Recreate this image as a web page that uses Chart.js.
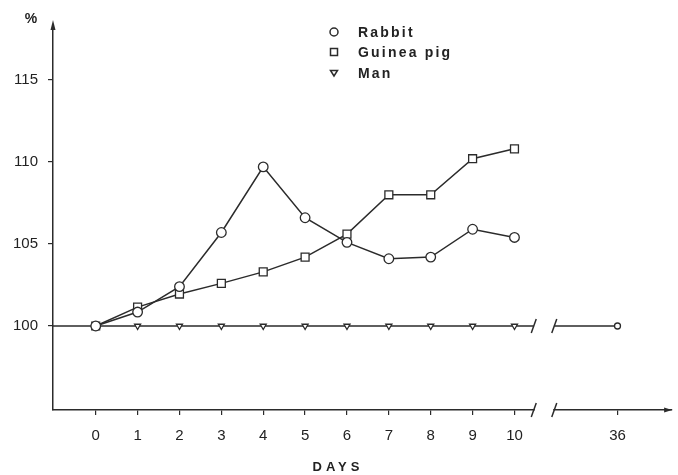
<!DOCTYPE html>
<html><head><meta charset="utf-8">
<script src="https://cdn.jsdelivr.net/npm/chart.js@4"></script>
<style>html,body{margin:0;padding:0;background:#fff;}#wrap{width:678px;height:475px;}</style>
</head><body><div id="wrap"><canvas id="c" width="678" height="475"></canvas></div>
<script>
// ---- data ----
const days = [0,1,2,3,4,5,6,7,8,9,10];
const rabbit = [100,100.85,102.4,105.7,109.7,106.6,105.1,104.1,104.2,105.9,105.4];
const guineaPig = [100,101.15,101.95,102.6,103.3,104.2,105.6,108.0,108.0,110.2,110.8];
const man = [100,100,100,100,100,100,100,100,100,100,100];
const lateDay = 36;
const lateValue = 100;
const xTickDays = [0,1,2,3,4,5,6,7,8,9,10,36];
const xTickLabels = ['0','1','2','3','4','5','6','7','8','9','10','36'];
const yTickValues = [100,105,110,115];
const seriesNames = ['Rabbit','Guinea pig','Man'];
const baseline = 100;

// ---- broken-axis mapping (axis units) ----
const LATE_POS = 12.46;        // where day 36 sits after the break
const BREAK_A = 10.46, BREAK_B = 10.95;
function axisPos(d){ return d <= 10 ? d : LATE_POS; }

const INK = '#2b2b2b';
const pts = arr => days.map((d,i)=>({x:axisPos(d), y:arr[i]}));

const decor = {
  id:'decor',
  beforeDatasetsDraw(chart){
    const {ctx, chartArea:a, scales:{x,y}} = chart;
    const yb = y.getPixelForValue(baseline);
    ctx.save();
    ctx.strokeStyle = INK; ctx.lineWidth = 1.3;
    ctx.beginPath();
    ctx.moveTo(a.left, yb); ctx.lineTo(x.getPixelForValue(BREAK_A), yb);
    ctx.moveTo(x.getPixelForValue(BREAK_B), yb); ctx.lineTo(x.getPixelForValue(LATE_POS), yb);
    ctx.stroke();
    ctx.restore();
  },
  afterDraw(chart){
    const {ctx, chartArea:a, scales:{x,y}} = chart;
    ctx.save();
    // gap in x axis
    const xa = x.getPixelForValue(BREAK_A), xb = x.getPixelForValue(BREAK_B);
    ctx.fillStyle = '#fff';
    ctx.fillRect(xa+1, a.bottom-3, xb-xa-2, 6);
    ctx.strokeStyle = INK; ctx.lineWidth = 1.5;
    const slash = (px, py) => { ctx.beginPath(); ctx.moveTo(px-2.5, py+7); ctx.lineTo(px+2.5, py-7); ctx.stroke(); };
    const yb = y.getPixelForValue(baseline);
    [xa, xb].forEach(px => { slash(px, a.bottom); slash(px, yb); });
    // arrows
    ctx.fillStyle = INK;
    ctx.beginPath(); ctx.moveTo(a.left, a.top-5); ctx.lineTo(a.left-2.5, a.top+5); ctx.lineTo(a.left+2.5, a.top+5); ctx.closePath(); ctx.fill();
    ctx.beginPath(); ctx.moveTo(a.right+1, a.bottom); ctx.lineTo(a.right-7, a.bottom-2.5); ctx.lineTo(a.right-7, a.bottom+2.5); ctx.closePath(); ctx.fill();
    // % label
    ctx.fillStyle = '#222';
    ctx.font = 'bold 14px "Liberation Sans", Arial, sans-serif';
    ctx.textAlign = 'center'; ctx.textBaseline = 'middle';
    ctx.fillText('%', 31, 19);
    // DAYS
    ctx.font = 'bold 13px "Liberation Sans", Arial, sans-serif';
    ctx.letterSpacing = '4px';
    ctx.fillText('DAYS', 338, 467);
    // legend
    ctx.letterSpacing = '2.2px';
    ctx.font = 'bold 14px "Liberation Sans", Arial, sans-serif';
    ctx.textAlign = 'left';
    const lx = 334, ly = [32, 52, 73];
    ctx.strokeStyle = INK; ctx.lineWidth = 1.5; ctx.fillStyle = '#fff';
    ctx.beginPath(); ctx.arc(lx, ly[0], 4, 0, Math.PI*2); ctx.fill(); ctx.stroke();
    ctx.beginPath(); ctx.rect(lx-3.5, ly[1]-3.5, 7, 7); ctx.fill(); ctx.stroke();
    ctx.beginPath(); ctx.moveTo(lx-3.5, ly[2]-2.5); ctx.lineTo(lx+3.5, ly[2]-2.5); ctx.lineTo(lx, ly[2]+3); ctx.closePath(); ctx.fill(); ctx.stroke();
    ctx.fillStyle = '#222';
    seriesNames.forEach((n,i)=>ctx.fillText(n, 358, ly[i]+1));
    ctx.restore();
  }
};

const common = {borderColor:INK, borderWidth:1.5, pointBorderColor:INK, pointBackgroundColor:'#fff', pointBorderWidth:1.3, tension:0, fill:false};

new Chart(document.getElementById('c'), {
  type:'line',
  data:{datasets:[
    {...common, label:seriesNames[0], data:pts(rabbit), pointStyle:'circle', pointRadius:4.8},
    {...common, label:seriesNames[1], data:pts(guineaPig), pointStyle:'rect', pointRadius:5.6},
    {...common, label:seriesNames[2], data:pts(man), pointStyle:'triangle', pointRotation:180, pointRadius:3.5, borderWidth:0, showLine:false},
    {...common, label:'late', data:[{x:axisPos(lateDay), y:lateValue}], pointStyle:'circle', pointRadius:3, showLine:false}
  ]},
  options:{
    responsive:false, animation:false, devicePixelRatio:1,
    layout:{padding:{top:25, right:2, left:0, bottom:0}},
    plugins:{legend:{display:false}, tooltip:{enabled:false}},
    scales:{
      x:{type:'linear', min:-1.02, max:13.74,
        afterBuildTicks(s){ s.ticks = xTickDays.map(d=>({value:axisPos(d)})); },
        afterFit(s){ s.height = 65; },
        grid:{drawOnChartArea:false, drawTicks:true, tickLength:5, color:INK, lineWidth:1.2},
        border:{display:true, color:INK, width:1.5},
        ticks:{autoSkip:false, maxRotation:0, padding:12, color:'#222',
          font:{family:'"Liberation Sans", Arial, sans-serif', size:15},
          callback:(v,i)=>xTickLabels[i]}
      },
      y:{type:'linear', min:94.88, max:118.35,
        afterBuildTicks(s){ s.ticks = yTickValues.map(v=>({value:v})); },
        afterFit(s){ s.width = 53; },
        grid:{drawOnChartArea:false, drawTicks:true, tickLength:5, color:INK, lineWidth:1.2},
        border:{display:true, color:INK, width:1.5},
        ticks:{padding:10, color:'#222',
          font:{family:'"Liberation Sans", Arial, sans-serif', size:15},
          callback:v=>String(v)}
      }
    }
  },
  plugins:[decor]
});
</script></body></html>
